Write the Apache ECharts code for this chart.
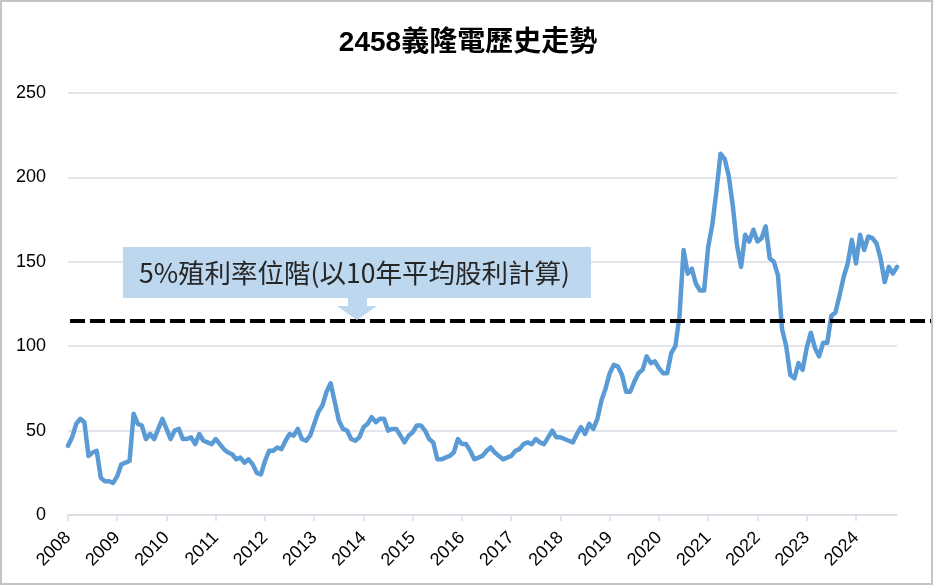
<!DOCTYPE html>
<html>
<head>
<meta charset="utf-8">
<script src="https://cdn.jsdelivr.net/npm/echarts@6/dist/echarts.min.js"></script>
<style>
html, body { margin: 0; padding: 0; background: #fff; }
#main { width: 936px; height: 586px; }
</style>
</head>
<body>
<div id="main"></div>
<script>
// 月收盤價 2008/01 ~ 2024/11
var years = [];
for (var y = 2008; y <= 2024; y++) years.push(String(y));

var months = [];
years.forEach(function (yy) {
    for (var m = 1; m <= 12; m++) months.push(yy + '/' + (m < 10 ? '0' + m : m));
});

var prices = [
    41, 46, 54, 57, 55, 35, 37, 38, 22, 20, 20, 19, 23, 30, 31, 32, 60, 54, 53, 45,
    48, 45, 51, 57, 51, 45, 50, 51, 45, 45, 46, 42, 48, 44, 43, 42, 45, 42, 39, 37,
    36, 33, 34, 31, 33, 30, 25, 24, 32, 38, 38, 40, 39, 44, 48, 47, 51, 45, 44, 47,
    54, 61, 65, 73, 78, 67, 56, 51, 50, 45, 44, 46, 52, 54, 58, 55, 57, 57, 50, 51,
    51, 47, 43, 47, 49, 53, 53, 50, 45, 43, 33, 33, 34, 35, 37, 45, 42, 42, 38, 33,
    34, 35, 38, 40, 37, 35, 33, 34, 35, 38, 39, 42, 43, 42, 45, 43, 42, 46, 50, 46,
    46, 45, 44, 43, 48, 52, 48, 54, 51, 57, 68, 75, 84, 89, 88, 83, 73, 73, 79, 84,
    86, 94, 90, 91, 87, 84, 84, 96, 100, 118, 157, 143, 146, 137, 133, 133, 159, 172, 192, 214,
    211, 201, 183, 160, 147, 166, 162, 169, 162, 164, 171, 152, 150, 142, 110, 100, 83, 81, 90, 86,
    99, 108, 99, 94, 102, 102, 118, 120, 130, 141, 149, 163, 149, 166, 157, 165, 164, 161, 152, 138,
    147, 143, 147
];
var categories = months.slice(0, prices.length);

var yTicks = [0, 50, 100, 150, 200, 250];
var yieldLevel = 115;   // 5%殖利率位階
var noteText = '5%殖利率位階(以10年平均股利計算)';

var myChart = echarts.init(document.getElementById('main'));

var option = {
    animation: false,
    backgroundColor: '#fff',
    title: {
        text: '2458義隆電歷史走勢',
        left: 'center',
        top: 29,
        padding: 0,
        textStyle: {
            fontFamily: 'Liberation Sans, Noto Sans CJK TC',
            fontSize: 28,
            fontWeight: 'bold',
            color: '#000'
        }
    },
    grid: { left: 68, right: 39, top: 93, bottom: 71 },
    xAxis: {
        type: 'category',
        data: categories,
        boundaryGap: false,
        axisLine: { lineStyle: { color: '#d9dde4', width: 1.5 } },
        axisTick: { interval: 11, length: 6, lineStyle: { color: '#d9dde4', width: 1.5 } },
        axisLabel: {
            interval: 11,
            rotate: 45,
            margin: 20,
            fontFamily: 'Liberation Sans',
            fontSize: 18,
            color: '#000',
            formatter: function (v) { return v.slice(0, 4); }
        },
        splitLine: { show: false }
    },
    yAxis: {
        type: 'value',
        min: yTicks[0],
        max: yTicks[yTicks.length - 1],
        interval: 50,
        axisLine: { show: false },
        axisTick: { show: false },
        axisLabel: { margin: 22, fontFamily: 'Liberation Sans', fontSize: 18, color: '#000' },
        splitLine: { lineStyle: { color: '#d9dde4', width: 1.5 } }
    },
    series: [{
        name: '2458',
        type: 'line',
        data: prices,
        symbol: 'none',
        lineStyle: { color: '#5b9bd5', width: 4.5, cap: 'round', join: 'round' }
    }]
};
myChart.setOption(option);

// 虛線與標註
var lineY = myChart.convertToPixel({ yAxisIndex: 0 }, yieldLevel);
var startX = myChart.convertToPixel({ xAxisIndex: 0 }, categories[0]) + 2;
var W = myChart.getWidth(), H = myChart.getHeight();

myChart.setOption({
    graphic: [
        {
            type: 'rect',
            shape: { x: 1, y: 1, width: W - 5, height: H - 3 },
            style: { fill: 'none', stroke: '#c4c4c4', lineWidth: 2 },
            silent: true
        },
        {
            type: 'line',
            shape: { x1: startX, y1: lineY, x2: W - 5, y2: lineY },
            style: { stroke: '#000', lineWidth: 4, lineDash: [15, 5] },
            z: 10
        },
        {
            type: 'rect',
            shape: { x: 123, y: 247, width: 468, height: 51 },
            style: { fill: '#bdd7ee' },
            z: 11
        },
        {
            type: 'polygon',
            shape: {
                points: [[348, 297], [367, 297], [367, 306], [377, 306], [357, lineY - 1], [337, 306], [348, 306]]
            },
            style: { fill: '#bdd7ee' },
            z: 11
        },
        {
            type: 'text',
            x: 139,
            y: 273,
            style: {
                text: noteText,
                fill: '#262626',
                fontFamily: 'Noto Sans CJK TC',
                fontSize: 26.5,
                verticalAlign: 'middle'
            },
            z: 12
        }
    ]
});
</script>
</body>
</html>
